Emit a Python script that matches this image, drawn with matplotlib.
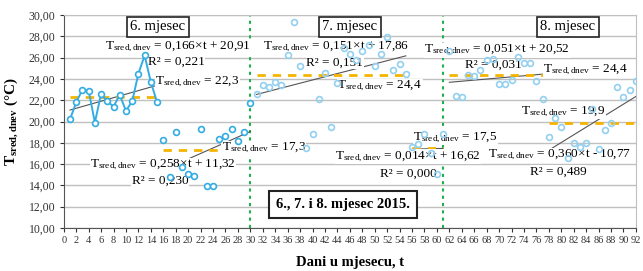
import numpy as np
import matplotlib
matplotlib.use("Agg")
import matplotlib.pyplot as plt

plt.rcParams['font.family'] = ['Liberation Serif', 'DejaVu Serif']
plt.rcParams['mathtext.fontset'] = 'custom'
plt.rcParams['mathtext.rm'] = 'Liberation Serif'
plt.rcParams['mathtext.it'] = 'Liberation Serif:italic'
plt.rcParams['mathtext.bf'] = 'Liberation Serif:bold'

# Daily mean temperatures, split into the six sub-periods.
days_jun1 = np.arange(1, 16)
temp_jun1 = [20.2, 21.8, 23.0, 22.9, 19.9, 22.6, 21.9, 21.4, 22.5, 21.0,
             21.9, 24.5, 26.2, 23.7, 21.8]
days_jun2 = np.arange(16, 31)
temp_jun2 = [18.3, 14.8, 19.0, 15.7, 15.1, 14.9, 19.3, 13.9, 13.9, 18.4,
             18.6, 19.3, 18.2, 19.0, 21.7]
days_jul1 = np.arange(31, 56)
temp_jul1 = [22.6, 23.4, 23.2, 23.7, 23.4, 26.2, 29.3, 25.2, 17.5, 18.8,
             22.1, 24.6, 19.5, 23.6, 26.9, 26.3, 25.8, 26.6, 27.2, 25.2,
             26.3, 27.9, 24.8, 25.4, 24.5]
days_jul2 = np.arange(56, 62)
temp_jul2 = [17.6, 17.9, 18.8, 17.0, 15.1, 18.8]
days_aug1 = np.arange(62, 78)
temp_aug1 = [26.6, 22.4, 22.3, 24.4, 24.3, 24.8, 25.8, 25.9, 23.5, 23.5,
             23.9, 26.1, 25.5, 25.5, 23.8, 22.1]
days_aug2 = np.arange(78, 93)
temp_aug2 = [18.5, 20.3, 19.5, 16.6, 18.0, 17.6, 18.0, 21.2, 17.4, 19.2,
             19.9, 23.2, 22.3, 23.0, 23.8]

# Trend lines and means as given on the chart.
trend_slope = [0.166, 0.258, 0.151, 0.014, 0.051, 0.360]
trend_icept = [20.91, 11.32, 17.86, 16.62, 20.52, -10.77]
r2_values = ['0,221', '0,230', '0,151', '0,000', '0,031', '0,489']
mean_values = [22.3, 17.3, 24.4, 17.5, 24.4, 19.9]
mean_labels = ['22,3', '17,3', '24,4', '17,5', '24,4', '19,9']
month_names = ['6. mjesec', '7. mjesec', '8. mjesec']
month_bounds = [30, 61]

segments = [days_jun1, days_jun2, days_jul1, days_jul2, days_aug1, days_aug2]
temps = [temp_jun1, temp_jun2, temp_jul1, temp_jul2, temp_aug1, temp_aug2]

fig = plt.figure(figsize=(6.43, 2.71), dpi=100)
ax = fig.add_axes([0.0992, 0.1587, 0.8898, 0.7859])

blue = '#33ADE3'
light = '#93D0EF'

# series
ax.plot(days_jun1, temp_jun1, '-o', color=blue, lw=1.4, ms=4.2,
        mfc='white', mec=blue, mew=1.2, zorder=6)
ax.plot(days_jun2, temp_jun2, 'o', ms=4.2, mfc='white', mec=blue, mew=1.2, zorder=6)
for d, t in zip(segments[2:], temps[2:]):
    ax.plot(d, t, 'o', ms=4.2, mfc='none', mec=light, mew=1.2, zorder=6)

# trend and mean lines
for d, k, n, m in zip(segments, trend_slope, trend_icept, mean_values):
    xs = np.array([d[0], d[-1]])
    ax.plot(xs, k * xs + n, color='#555555', lw=0.8, zorder=3)
    ax.plot(xs, [m, m], color='#F5B400', lw=2, ls=(0, (3, 2.5)), zorder=3)

for b in month_bounds:
    ax.axvline(b, color='#1FAF4F', lw=1.5, ls=(0, (1.5, 2)), zorder=2)

# labels
sub = r'T$_{\mathregular{sred,dnev}}$'
box = dict(facecolor='white', edgecolor='none', pad=0.3)
fs = 9.5


def lab(x, y, s):
    ax.text(x, y, s, fontsize=fs, va='center', ha='left', bbox=box, zorder=4)


eq_pos = [(6.7, 27.0), (4.2, 15.9), (32.1, 27.0), (43.6, 16.7), (58.0, 26.7), (68.2, 16.85)]
r2_pos = [(13.5, 25.6), (10.9, 14.45), (39.0, 25.5), (50.8, 15.1), (64.5, 25.3), (75.0, 15.3)]
mean_pos = [(14.7, 23.7), (25.4, 17.5), (44.0, 23.3), (56.2, 18.5), (77.1, 24.8), (73.6, 20.9)]

for i in range(6):
    k = f'{trend_slope[i]:.3f}'.replace('.', ',')
    n = trend_icept[i]
    sign = '+' if n >= 0 else '-'
    nstr = f'{abs(n):.2f}'.replace('.', ',')
    lab(*eq_pos[i], f'{sub} = {k}×t {sign} {nstr}')
    lab(*r2_pos[i], f'R² = {r2_values[i]}')
    lab(*mean_pos[i], f'{sub} = {mean_labels[i]}')

frame = dict(facecolor='white', edgecolor='#222222', lw=1.2, pad=2.5)
for x, s in zip([15.1, 46.0, 81.0], month_names):
    ax.text(x, 28.9, s, fontsize=10.5, ha='center', va='center', bbox=frame, zorder=7)
ax.text(44.9, 12.25, '6., 7. i 8. mjesec 2015.', fontsize=10.5, fontweight='bold',
        ha='center', va='center',
        bbox=dict(facecolor='white', edgecolor='#222222', lw=1.5, pad=5), zorder=7)

# axes
ax.set_xlim(0, 92)
ax.set_ylim(10, 30)
ax.set_xticks(np.arange(0, 93, 2))
ax.set_yticks(np.arange(10, 31, 2))
ax.set_yticklabels([f'{v:.2f}'.replace('.', ',') for v in np.arange(10, 31, 2)])
ax.tick_params(axis='x', labelsize=7.5, length=3, direction='out', colors='#333333', pad=3)
ax.tick_params(axis='y', labelsize=8.5, length=3, direction='out', colors='#333333', pad=3)
ax.yaxis.grid(True, color='#C0C0C0', lw=1)
ax.set_axisbelow(True)
for s in ['top', 'right']:
    ax.spines[s].set_color('#C0C0C0')
for s in ['left', 'bottom']:
    ax.spines[s].set_color('#555555')

ax.set_xlabel('Dani u mjesecu, t', fontsize=10.5, fontweight='bold', labelpad=8)
ax.set_ylabel(r'T$_{\mathbf{sred,dnev}}$ (°C)', fontsize=11, fontweight='bold', labelpad=6)

fig.savefig('out.png', dpi=100)
